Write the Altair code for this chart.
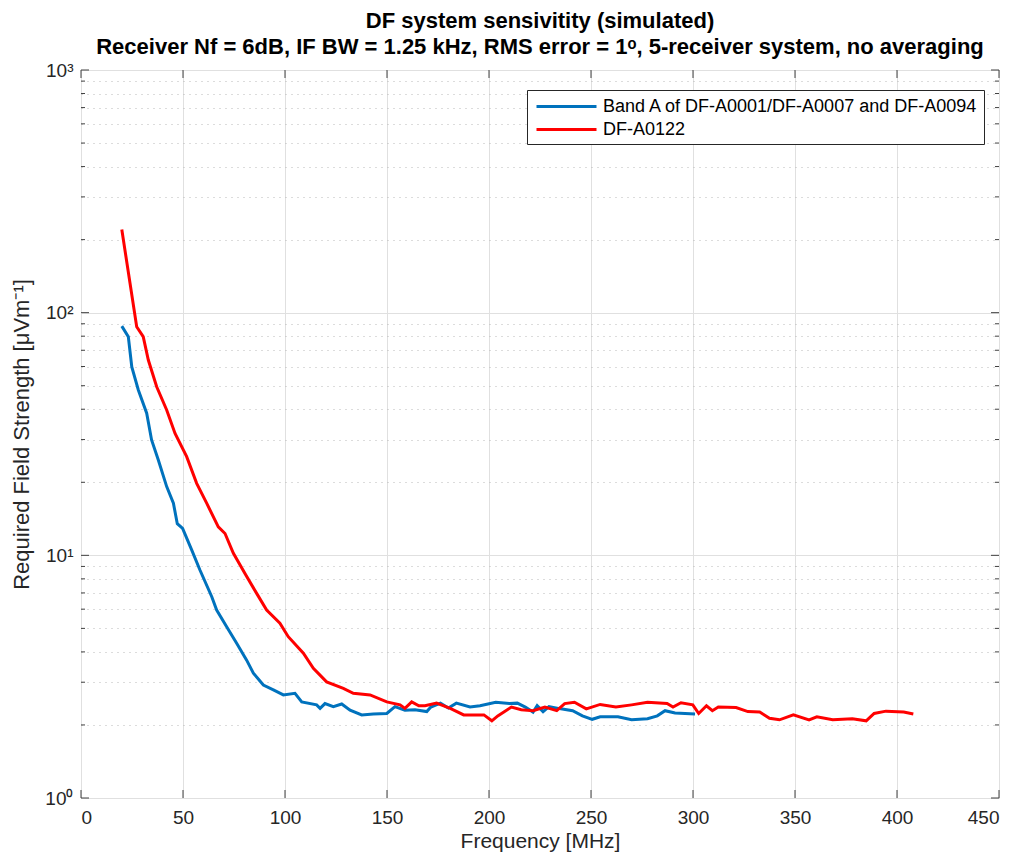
import altair as alt
import pandas as pd

# ---- data ----
blue_name = "Band A of DF-A0001/DF-A0007 and DF-A0094"
red_name = "DF-A0122"

blue_freq = [20, 23.2, 24.9, 28.1, 32.2, 34.6, 37.9, 42, 45.3, 47.2, 49.8, 54.3, 58.3,
             64.1, 66.5, 71.4, 76.3, 81.2, 84.5, 89.4, 94.3, 99.2, 104.9, 108.2, 115.5,
             117.2, 119.6, 123.7, 127.8, 131.9, 137.6, 143.3, 149.9, 153.9, 158.8, 163.7,
             169.5, 171.5, 176.2, 180.1, 184, 190.7, 195.6, 203.3, 210, 213.9, 217.8,
             221.6, 223.6, 226.5, 229.4, 235.2, 241, 245.8, 250.6, 254.5, 263.2, 269.9,
             277.7, 282.5, 286.3, 291.2, 301]
blue_val = [88, 79.6, 59.8, 48, 38.5, 29.9, 24.7, 19.2, 16.4, 13.5, 12.9, 10.5, 8.7,
            6.75, 5.95, 5.08, 4.34, 3.7, 3.27, 2.92, 2.79, 2.66, 2.70, 2.49, 2.42,
            2.34, 2.45, 2.38, 2.44, 2.30, 2.20, 2.22, 2.23, 2.38, 2.30, 2.31,
            2.27, 2.37, 2.46, 2.35, 2.46, 2.37, 2.40, 2.48, 2.45, 2.46, 2.37,
            2.26, 2.40, 2.27, 2.38, 2.33, 2.29, 2.18, 2.11, 2.16, 2.16, 2.10,
            2.12, 2.18, 2.29, 2.24, 2.22]

red_freq = [20, 27.3, 30.5, 33, 37.1, 42, 46.1, 51.8, 56.7, 61.6, 67.3, 70.6, 74.7,
            80.8, 86.1, 91, 97.5, 101.6, 109, 113.9, 120.4, 128.6, 133.5, 141.7, 149.9,
            156.4, 158.8, 162.1, 165.6, 168.6, 174.3, 181, 187.6, 197.5, 201.4, 204.3,
            211, 215.8, 221.6, 227.4, 233.2, 237.1, 241.9, 247.7, 254.5, 262.2, 269.9,
            277.7, 287.3, 290.2, 294.1, 299.9, 302.8, 306.6, 309.5, 312.4, 321.1, 326.9,
            332.7, 337.5, 342.4, 349.2, 356.9, 360.7, 368.5, 378.1, 384.9, 388.8, 394.6,
            403.3, 408]
red_val = [220, 87.5, 79.6, 63.8, 49.5, 39.7, 31.8, 25.5, 19.8, 16.4, 13.1, 12.3, 10.2,
           8.3, 6.97, 5.95, 5.25, 4.62, 3.95, 3.42, 3.01, 2.83, 2.70, 2.66, 2.49,
           2.42, 2.34, 2.49, 2.40, 2.40, 2.46, 2.34, 2.20, 2.20, 2.08, 2.18,
           2.37, 2.31, 2.29, 2.37, 2.29, 2.45, 2.48, 2.33, 2.43, 2.37, 2.42,
           2.48, 2.45, 2.37, 2.47, 2.42, 2.23, 2.40, 2.29, 2.37, 2.36, 2.27,
           2.26, 2.13, 2.10, 2.20, 2.10, 2.16, 2.10, 2.12, 2.08, 2.23, 2.28,
           2.26, 2.22]

x_ticks = [0, 50, 100, 150, 200, 250, 300, 350, 400, 450]
y_major = [1, 10, 100, 1000]
y_minor = [m * d for d in (1, 10, 100) for m in range(2, 10)]
y_all = sorted(y_major + y_minor)

title_lines = ["DF system sensivitity (simulated)",
               "Receiver Nf = 6dB, IF BW = 1.25 kHz, RMS error = 1\u1d52, 5-receiver system, no averaging"]

# ---- tables ----
df = pd.concat([
    pd.DataFrame({"freq": blue_freq, "value": blue_val, "series": blue_name, "order": range(len(blue_freq))}),
    pd.DataFrame({"freq": red_freq, "value": red_val, "series": red_name, "order": range(len(red_freq))}),
])
df_major = pd.DataFrame({"value": y_major})
df_minor = pd.DataFrame({"value": y_minor})
df_xt = pd.DataFrame({"freq": x_ticks})

W, H = 918, 728
FONT = "Liberation Sans"
AX = "#404040"

xscale = alt.Scale(domain=[0, 450], nice=False, zero=False)
yscale = alt.Scale(type="log", domain=[1, 1000], nice=False)

major_test = "indexof([1,10,100,1000], datum.value) >= 0"
label_expr = ("datum.value == 1 ? '10\u2070' : datum.value == 10 ? '10\u00b9' : "
              "datum.value == 100 ? '10\u00b2' : datum.value == 1000 ? '10\u00b3' : ''")

xaxis = alt.Axis(title="Frequency [MHz]", values=x_ticks, format="d",
                 grid=True, gridColor="#e0e0e0", tickSize=0, labelPadding=10,
                 labelFontSize=19, labelColor="#262626", labelFont=FONT,
                 titleFont=FONT, titleFontSize=21, titleFontWeight="normal",
                 titleColor="#262626", titlePadding=3, domain=False)
yaxis = alt.Axis(title="Required Field Strength [\u03bcVm\u207b\u00b9]", values=y_all,
                 labelExpr=label_expr, grid=True,
                 gridDash={"condition": {"test": major_test, "value": []}, "value": [1, 5]},
                 gridColor={"condition": {"test": major_test, "value": "#e0e0e0"}, "value": "#b8b8b8"},
                 tickSize=0, labelPadding=8, labelFontSize=19, labelColor="#262626",
                 labelFont=FONT, titleFont=FONT, titleFontSize=22,
                 titleFontWeight="normal", titleColor="#262626", titlePadding=11,
                 domain=False)

X = alt.X("freq:Q", scale=xscale, axis=xaxis)
Y = alt.Y("value:Q", scale=yscale, axis=yaxis)

lines = alt.Chart(df).mark_line(strokeWidth=3).encode(
    x=X, y=Y,
    color=alt.Color("series:N",
                    scale=alt.Scale(domain=[blue_name, red_name], range=["#0072BD", "#FF0000"]),
                    legend=alt.Legend(title=None, orient="none", legendX=446, legendY=20,
                                      symbolType="M-3,0H3", symbolSize=400, symbolStrokeWidth=3,
                                      symbolOffset=23, labelOffset=25,
                                      labelFontSize=18, labelFont=FONT, labelColor="black",
                                      labelLimit=600, strokeColor="#262626",
                                      fillColor="white", padding=5, rowPadding=2)),
    order="order:Q",
)

def yticks(data, length):
    left = alt.Chart(data).mark_rule(color=AX, strokeWidth=1).encode(
        y=Y, x=alt.value(0), x2=alt.value(length))
    right = alt.Chart(data).mark_rule(color=AX, strokeWidth=1).encode(
        y=Y, x=alt.value(W), x2=alt.value(W - length))
    return [left, right]

xt_bottom = alt.Chart(df_xt).mark_rule(color=AX, strokeWidth=1).encode(
    x=X, y=alt.value(H), y2=alt.value(H - 8))
xt_top = alt.Chart(df_xt).mark_rule(color=AX, strokeWidth=1).encode(
    x=X, y=alt.value(0), y2=alt.value(8))

chart = alt.layer(
    lines, *yticks(df_major, 8), *yticks(df_minor, 4), xt_bottom, xt_top
).properties(
    width=W, height=H,
    title=alt.TitleParams(text=title_lines, font=FONT, fontSize=22, fontWeight="bold",
                          color="black", anchor="middle", lineHeight=26, offset=2,
                          frame="group"),
    autosize=alt.AutoSizeParams(type="none"),
    padding={"left": 73, "top": 62, "right": 11, "bottom": 54},
).configure_view(stroke=AX, strokeWidth=1).configure(background="white")

chart.save("out.html", embed_options={"renderer": "svg", "actions": False})
